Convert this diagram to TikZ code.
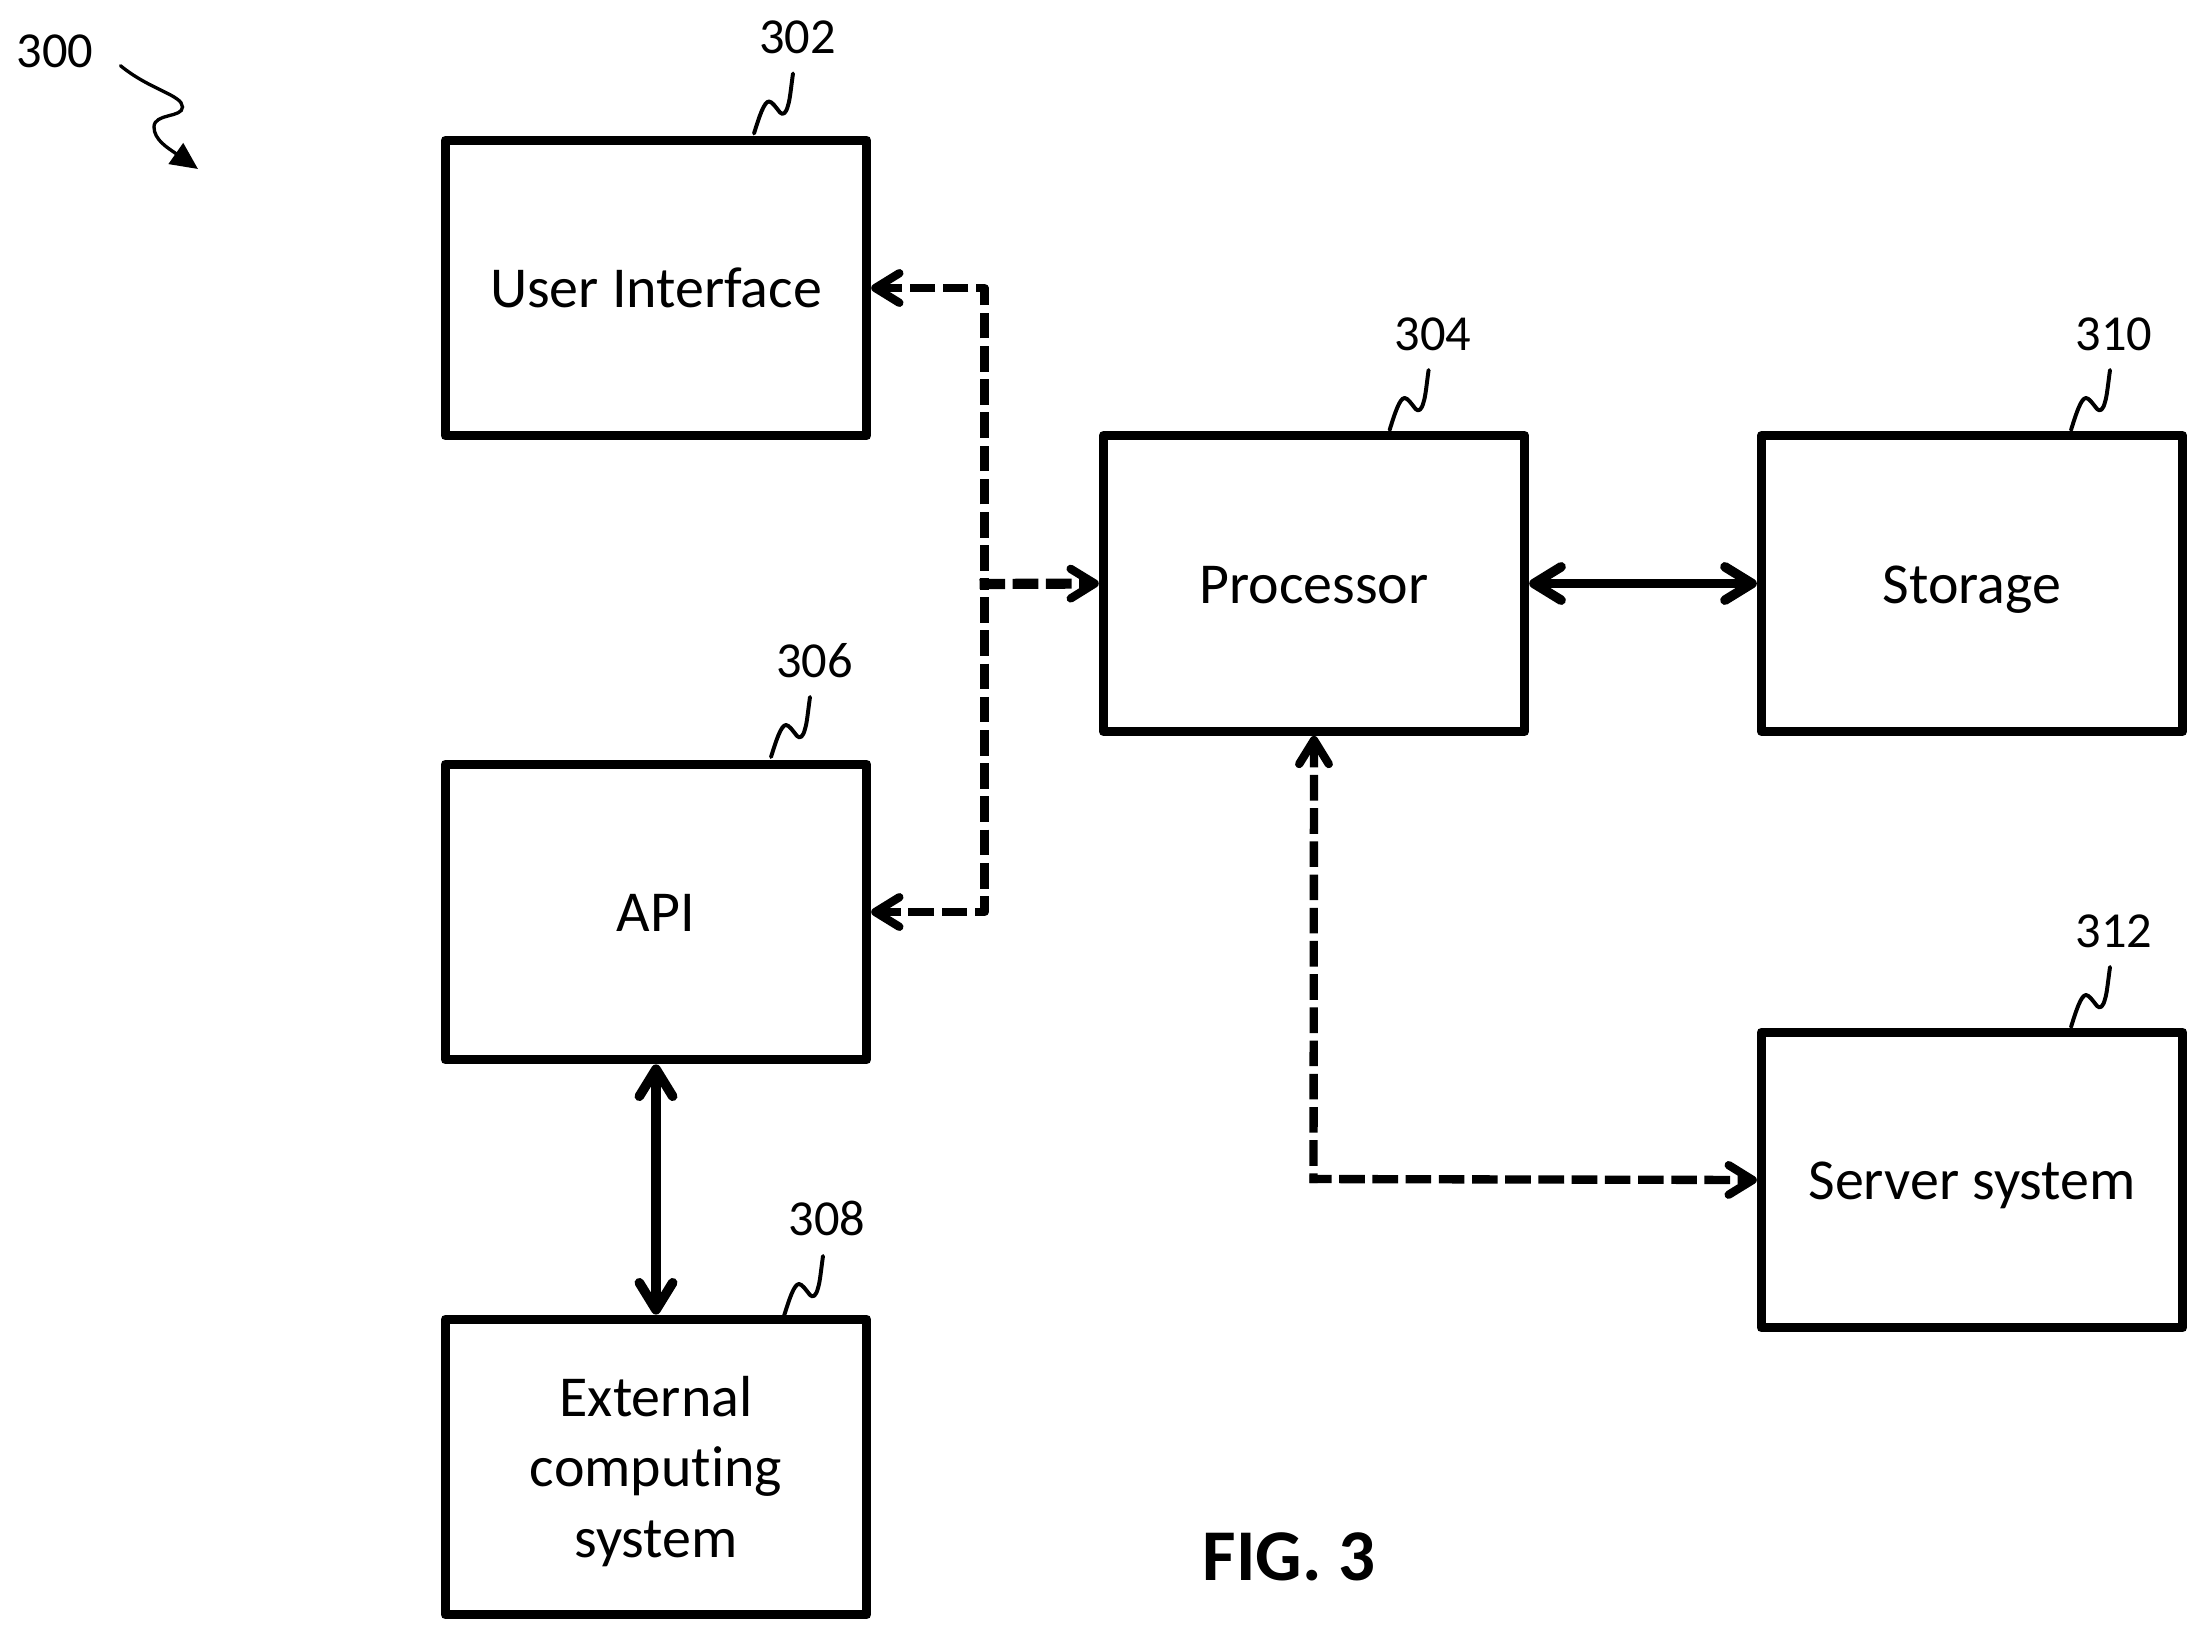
\documentclass[tikz,border=0pt]{standalone}
\usepackage{fontspec}
\setmainfont[Ligatures=NoCommon]{Carlito}
\usetikzlibrary{arrows.meta}
\tikzset{
  x=0.48pt,y=-0.48pt,
  blockbox/.style={draw,line width=4.3pt,line join=round,minimum width=202.3pt,minimum height=142pt,inner sep=0pt,align=center,font=\fontsize{27.8}{33.8}\selectfont,anchor=center},
  oneline/.style={text height=25pt,text depth=6pt},
  reflabel/.style={inner sep=0pt,font=\fontsize{24.2}{28}\selectfont},
  barbtip/.tip={Straight Barb[round,length=13pt,width=16pt,line width=4.6pt]},
  dashtip/.tip={Straight Barb[round,length=11.5pt,width=14.2pt,line width=4pt]},
  solidlink/.style={line width=4.5pt,barbtip-barbtip},
  dashlink/.style={line width=4pt,-dashtip,line join=round,dash pattern=on 12.3pt off 3.64pt},
  leadline/.pic={\draw[line width=1.9pt,line cap=round,line join=round] (0,0) .. controls (-2,14) and (-3,26) .. (-5,32) .. controls (-7,40) and (-10,42) .. (-13,39) .. controls (-17,34) and (-21,28) .. (-24,28) .. controls (-29,28) and (-34,44) .. (-39,60);},
}
\begin{document}
\begin{tikzpicture}
\useasboundingbox (0,0) rectangle (2207,1640);
\fill[white] (0,0) rectangle (2207,1640);
\node[blockbox,oneline] (ui) at (656,288) {User Interface};
\node[blockbox,oneline] (api) at (656,912) {API};
\node[blockbox] (ext) at (656,1467) {\rule{0pt}{23.5pt}External\\computing\\system};
\node[blockbox,oneline] (proc) at (1314,583.5) {Processor};
\node[blockbox,oneline] (stor) at (1972,583.5) {Storage};
\node[blockbox,oneline] (srv) at (1972,1180) {Server system};
\node[reflabel] (l300) at (55,51) {300};
\node[reflabel] (l302) at (797.6,37.5) {302};
\node[reflabel] (l304) at (1433,334) {304};
\node[reflabel] (l306) at (814.5,661) {306};
\node[reflabel] (l308) at (827,1218) {308};
\node[reflabel] (l310) at (2114,334) {310};
\node[reflabel] (l312) at (2114,931) {312};
\node[font=\bfseries\fontsize{35}{38}\selectfont,inner sep=0pt] (fig) at (1289,1557) {FIG. 3};
\coordinate (a0) at (120.5,65.7);
\coordinate (a1) at (198,169);
\draw[line width=1.6pt,line cap=round,-{Triangle[length=13pt,width=12pt]}] (a0) .. controls (150,90) and (182.5,95) .. (182.5,107) .. controls (182.5,118) and (154,113) .. (154,127) .. controls (154,140) and (168,148) .. (a1);
\pic at (793,73.5) {leadline};
\pic at (1428.6,370) {leadline};
\pic at (810,697) {leadline};
\pic at (823,1256) {leadline};
\pic at (2110,370) {leadline};
\pic at (2110,967) {leadline};
\coordinate (j) at (984.5,584);
\coordinate (jl) at (979.5,584);
\coordinate (srvh) at (1309.5,1179);
\coordinate (srvv) at (1313.5,1183);
\draw[solidlink] (proc.east) -- (stor.west);
\draw[solidlink] (api.south) -- (ext.north);
\draw[dashlink,dash phase=9.6pt] (j) |- (ui.east);
\draw[dashlink,dash phase=9.6pt] (j) |- (api.east);
\draw[dashlink,line width=4.9pt] (jl) -- (proc.west);
\draw[dashlink,dash phase=7.7pt] (srvv) -- (proc.south);
\draw[dashlink,dash phase=1.7pt] (srvh) -- (srv.west);
\end{tikzpicture}
\end{document}
